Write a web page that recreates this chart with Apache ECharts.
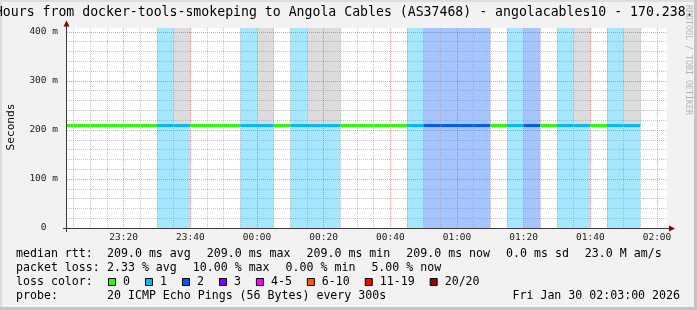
<!DOCTYPE html>
<html><head><meta charset="utf-8">
<script src="https://cdn.jsdelivr.net/npm/echarts@6/dist/echarts.min.js"></script>
<style>html,body{margin:0;padding:0;background:#f2f2f2}#c{width:697px;height:310px}</style>
</head><body><div id="c"></div>
<script>
// ---------- data ----------
const intervalStarts = ['23:00','23:05','23:10','23:15','23:20','23:25','23:30','23:35','23:40','23:45','23:50','23:55',
  '00:00','00:05','00:10','00:15','00:20','00:25','00:30','00:35','00:40','00:45','00:50','00:55',
  '01:00','01:05','01:10','01:15','01:20','01:25','01:30','01:35','01:40','01:45','01:50'];
const medianRtt = [209,209,209,209,209,209,209,209,209,209,209,209,
  209,209,209,209,209,209,209,209,209,209,209,209,
  209,209,209,209,209,209,209,209,209,209,209];
const lossCount = [0,0,0,0,0,0,1,1,0,0,0,1,
  1,0,1,1,1,0,0,0,0,1,2,2,
  2,2,0,1,2,0,1,1,0,1,1];
const smokeAbove = [0,0,0,0,0,0,0,1,0,0,0,0,
  1,0,0,1,1,0,0,0,0,0,0,0,
  0,0,0,0,0,0,0,1,0,0,1];
const xRange = ['23:03','02:03'];
const xTickLabels = ['23:20','23:40','00:00','00:20','00:40','01:00','01:20','01:40','02:00'];
const yTickValues = [0,100,200,300,400];
const yTickLabels = ['0','100 m','200 m','300 m','400 m'];
const yMax = 408;
const lossColorLabels = ['0','1','2','3','4-5','6-10','11-19','20/20'];
const lossColors = ['#26ff00','#00b8ff','#0059ff','#7e00ff','#ff00ff','#ff5a00','#ff0000','#a10000'];
const titleText = '3 Hours from docker-tools-smokeping to Angola Cables (AS37468) - angolacables10 - 170.238.';
const legendRtt = ['209.0 ms avg','209.0 ms max','209.0 ms min','209.0 ms now','0.0 ms sd','23.0 M am/s'];
const legendLoss = ['2.33 % avg','10.00 % max','0.00 % min','5.00 % now'];
const probeText = '20 ICMP Echo Pings (56 Bytes) every 300s';
const dateText = 'Fri Jan 30 02:03:00 2026';
const STEP = 5;

// ---------- helpers ----------
const toMin = s => { const [h, m] = s.split(':').map(Number); return (h < 12 ? h + 24 : h) * 60 + m - 22 * 60; };
const xMin = toMin(xRange[0]), xMax = toMin(xRange[1]);
const majorX = xTickLabels.map(toMin);
const minorX = []; for (let v = Math.ceil(xMin / STEP) * STEP; v < xMax; v += STEP) if (!majorX.includes(v)) minorX.push(v);
const majorY = yTickValues.filter(v => v > 0);
const minorY = []; for (let v = 20; v < yMax; v += 20) if (!yTickValues.includes(v)) minorY.push(v);
const lossIdx = n => n <= 3 ? n : n <= 5 ? 4 : n <= 10 ? 5 : n < 20 ? 6 : 7;
const rgba = (hex, a) => { const n = parseInt(hex.slice(1), 16); return `rgba(${n >> 16},${(n >> 8) & 255},${n & 255},${a})`; };
const rows = intervalStarts.map((s, i) => { const t = toMin(s); return [t, t + STEP, lossCount[i], medianRtt[i], smokeAbove[i]]; });

const MONO = '"DejaVu Sans Mono", monospace';
const CW = 6.98;      // legend char width
const GLUE = 16;      // gap between legend items
const G = { left: 67, top: 28, width: 600, height: 200 };
const MAJ = { color: 'rgba(225,40,40,0.45)', width: 1, type: [1, 1] };
const MIN = { color: 'rgba(130,130,130,0.45)', width: 1, type: [1, 1] };

const chart = echarts.init(document.getElementById('c'), null, { renderer: 'canvas' });

const graphic = [];
const T = (text, x, y, opts = {}) => graphic.push({ type: 'text', x, y, rotation: opts.rot || 0, z: 20,
  style: { text, font: opts.font || ('11.6px ' + MONO), fill: opts.fill || '#000', textAlign: opts.align || 'left', textVerticalAlign: 'middle' } });
// borders
graphic.push({ type: 'rect', z: 1, shape: { x: 0, y: 0, width: 697, height: 2 }, style: { fill: '#dedede' } });
graphic.push({ type: 'rect', z: 1, shape: { x: 0, y: 0, width: 2, height: 310 }, style: { fill: '#dedede' } });
graphic.push({ type: 'rect', z: 1, shape: { x: 0, y: 307, width: 697, height: 3 }, style: { fill: '#c4c4c4' } });
graphic.push({ type: 'rect', z: 1, shape: { x: 694, y: 0, width: 3, height: 310 }, style: { fill: '#c4c4c4' } });
// title
T(titleText, -21, 13, { font: '13.2px ' + MONO });
// axis title and watermark
T('Seconds', 11, 127, { font: '11.2px ' + MONO, align: 'center', rot: Math.PI / 2 });
T('RRDTOOL / TOBI OETIKER', 688.5, 60, { font: '8.3px ' + MONO, fill: '#b4b4b4', align: 'center', rot: -Math.PI / 2 });
// axes lines + arrows
graphic.push({ type: 'line', z: 15, shape: { x1: 63, y1: 228.5, x2: 670, y2: 228.5 }, style: { stroke: '#3a3a3a', lineWidth: 1 } });
graphic.push({ type: 'line', z: 15, shape: { x1: 66.5, y1: 232, x2: 66.5, y2: 25 }, style: { stroke: '#3a3a3a', lineWidth: 1 } });
graphic.push({ type: 'polygon', z: 16, shape: { points: [[669, 225.5], [675, 228.5], [669, 231.5]] }, style: { fill: '#8b0000' } });
graphic.push({ type: 'polygon', z: 16, shape: { points: [[63.5, 26.5], [66.5, 20.5], [69.5, 26.5]] }, style: { fill: '#8b0000' } });
// legend rows
const rowY = [254, 268, 282, 296];
const VX = 107;
const flow = (items, y) => { let x = VX; items.forEach(s => { T(s, x, y); x += s.length * CW + GLUE; }); };
T('median rtt:', 16, rowY[0]);
flow(legendRtt, rowY[0]);
T('packet loss:', 16, rowY[1]);
flow(legendLoss, rowY[1]);
T('loss color:', 16, rowY[2]);
let bx = 108;
lossColorLabels.forEach((lab, i) => {
  graphic.push({ type: 'rect', z: 20, shape: { x: bx + 0.5, y: rowY[2] - 3.5, width: 7, height: 7 }, style: { fill: lossColors[i], stroke: '#000', lineWidth: 1 } });
  T(lab, bx + 15, rowY[2]);
  bx += 30 + CW * lab.length;
});
T('probe:', 16, rowY[3]);
T(probeText, VX, rowY[3]);
T(dateText, 680, rowY[3], { align: 'right' });

const tickLabelFont = { fontFamily: MONO, fontSize: 9.5, color: '#222' };

chart.setOption({
  animation: false,
  backgroundColor: '#f2f2f2',
  grid: { left: G.left, top: G.top, width: G.width, height: G.height, show: true, backgroundColor: '#ffffff', borderWidth: 0 },
  xAxis: [
    { type: 'value', min: xMin, max: xMax, z: 4,
      axisLine: { show: false },
      axisTick: { show: false, customValues: majorX },
      axisLabel: Object.assign({ customValues: majorX, margin: 5, formatter: v => xTickLabels[majorX.indexOf(Math.round(v))] || '' }, tickLabelFont),
      splitLine: { show: true, lineStyle: MAJ } },
    { type: 'value', min: xMin, max: xMax, z: 3,
      axisLine: { show: false }, axisLabel: { show: false },
      axisTick: { show: false, customValues: minorX },
      splitLine: { show: true, lineStyle: MIN } }
  ],
  yAxis: [
    { type: 'value', min: 0, max: yMax, z: 4,
      axisLine: { show: false },
      axisTick: { show: false, customValues: majorY },
      axisLabel: Object.assign({ customValues: yTickValues, margin: 9,
        formatter: v => { const l = yTickLabels[yTickValues.indexOf(Math.round(v))] || ''; return l.includes(' ') ? l : l + '  '; } }, tickLabelFont),
      splitLine: { show: true, lineStyle: MAJ } },
    { type: 'value', min: 0, max: yMax, z: 3,
      axisLine: { show: false }, axisLabel: { show: false },
      axisTick: { show: false, customValues: minorY },
      splitLine: { show: true, lineStyle: MIN } }
  ],
  series: [
    { type: 'custom', name: 'loss background', z: 1, silent: true, data: rows,
      encode: { x: [0, 1], y: 3 },
      renderItem: (params, api) => {
        const t0 = Math.max(api.value(0), xMin), t1 = Math.min(api.value(1), xMax);
        const loss = api.value(2), med = api.value(3), smoke = api.value(4);
        const tl = api.coord([t0, yMax]), br = api.coord([t1, 0]);
        const children = [];
        if (loss > 0) children.push({ type: 'rect', shape: { x: tl[0], y: tl[1], width: br[0] - tl[0], height: br[1] - tl[1] },
          style: { fill: rgba(lossColors[lossIdx(loss)], 0.35) } });
        if (smoke) { const m = api.coord([t1, med]); children.push({ type: 'rect',
          shape: { x: tl[0], y: tl[1], width: br[0] - tl[0], height: m[1] - tl[1] }, style: { fill: '#dcdcdc' } }); }
        return { type: 'group', children };
      } },
    { type: 'custom', name: 'median rtt', z: 6, silent: true, data: rows,
      encode: { x: [0, 1], y: 3 },
      renderItem: (params, api) => {
        const t0 = Math.max(api.value(0), xMin), t1 = Math.min(api.value(1), xMax);
        const med = api.value(3), loss = api.value(2);
        const a = api.coord([t0, med]), b = api.coord([t1, med]);
        return { type: 'line', shape: { x1: a[0], y1: a[1], x2: b[0], y2: b[1] },
          style: { stroke: lossColors[lossIdx(loss)], lineWidth: 3 } };
      } }
  ],
  graphic: { elements: graphic }
});
</script></body></html>
